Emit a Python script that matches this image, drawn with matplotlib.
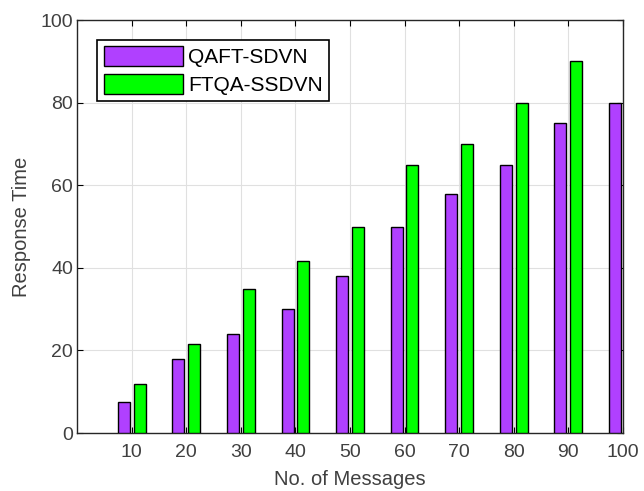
import matplotlib
matplotlib.use("Agg")
import matplotlib.pyplot as plt
import numpy as np

plt.rcParams['font.family'] = ['Liberation Sans', 'DejaVu Sans']

messages = [10, 20, 30, 40, 50, 60, 70, 80, 90, 100]
qaft = [7.5, 18, 24, 30, 38, 50, 58, 65, 75, 80]
ftqa = [12, 21.5, 35, 41.7, 50, 65, 70, 80, 90, 95]

fig = plt.figure(figsize=(6.44, 4.91), dpi=100)
ax = fig.add_axes([0.12, 0.118, 0.847, 0.841])

x = np.array(messages)
w = 2.2
ax.bar(x - 1.45, qaft, width=w, color='#B040FF', edgecolor='black', linewidth=1.0,
       label='QAFT-SDVN', zorder=3)
ax.bar(x + 1.45, ftqa, width=w, color='#00FF00', edgecolor='black', linewidth=1.0,
       label='FTQA-SSDVN', zorder=3)

ax.set_xlim(0, 100)
ax.set_ylim(0, 100)
ax.set_xticks(messages)
ax.set_yticks(np.arange(0, 101, 20))
ax.grid(True, color='#e0e0e0', linewidth=0.8, zorder=0)
ax.tick_params(direction='in', top=True, right=True, labelsize=14,
               labelcolor='#404040', length=4, width=0.8, pad=3)
ax.tick_params(axis='x', pad=8)
for s in ax.spines.values():
    s.set_linewidth(1.0)
    s.set_color('#262626')

ax.set_xlabel('No. of Messages', fontsize=14.5, color='#404040', labelpad=6)
ax.set_ylabel('Response Time', fontsize=14.5, color='#404040', labelpad=7)

leg = ax.legend(loc='upper left', bbox_to_anchor=(0.037, 0.952), fontsize=15,
                fancybox=False, edgecolor='black', framealpha=1,
                handlelength=3.8, handleheight=1.05, borderpad=0.3,
                labelspacing=0.35, handletextpad=0.25, borderaxespad=0)
leg.get_frame().set_linewidth(1.2)

fig.savefig('out.png', dpi=100)
